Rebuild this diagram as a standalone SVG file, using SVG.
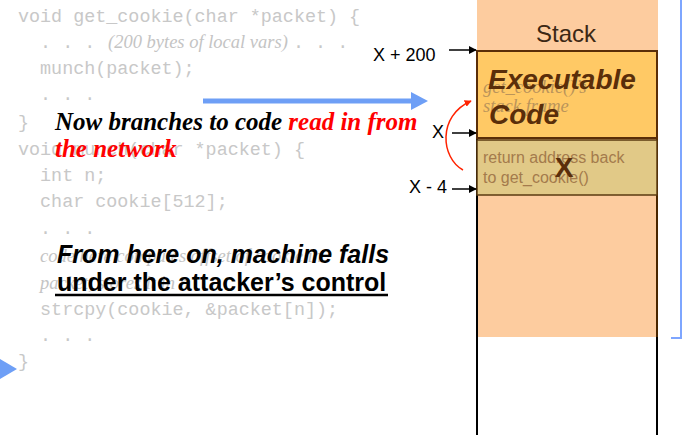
<svg xmlns="http://www.w3.org/2000/svg" width="682" height="435" viewBox="0 0 682 435">
  <style>
    .code { font-family: "Liberation Mono", "DejaVu Sans Mono", monospace; font-size: 18.4px; fill: #c8c8c8; }
    .note { font-family: "Liberation Serif", "Times New Roman", serif; font-style: italic; font-size: 18.5px; fill: #c4c4c4; }
    .callout { font-family: "Liberation Serif", "Times New Roman", serif; font-style: italic; font-weight: bold; font-size: 25px; }
    .warn { font-family: "Liberation Sans", Arial, sans-serif; font-weight: bold; font-size: 25px; fill: #000; }
    .addr { font-family: "Liberation Sans", Arial, sans-serif; font-size: 18px; fill: #000; }
    .ptr { stroke: #000; stroke-width: 1.5; fill: none; }
  </style>
  <defs>
    <marker id="ptrHead" viewBox="0 0 10 10" refX="9" refY="5" markerWidth="8" markerHeight="8" markerUnits="userSpaceOnUse" orient="auto">
      <path d="M0,0 L10,5 L0,10 z" fill="#000"/>
    </marker>
    <marker id="redHead" viewBox="0 0 10 10" refX="9" refY="5" markerWidth="7" markerHeight="7" markerUnits="userSpaceOnUse" orient="auto">
      <path d="M0,0 L10,5 L0,10 z" fill="#ff2200"/>
    </marker>
  </defs>

  <rect width="682" height="435" fill="#ffffff"/>

  <!-- source listing (dimmed) -->
  <g id="listing">
    <text class="code" x="18" y="22" xml:space="preserve">void get_cookie(char *packet) {</text>
    <text class="code" x="18" y="48" xml:space="preserve">  . . .</text>
    <text class="note" x="108" y="48">(200 bytes of local vars)</text>
    <text class="code" x="293" y="48">. . .</text>
    <text class="code" x="18" y="74" xml:space="preserve">  munch(packet);</text>
    <text class="code" x="18" y="100" xml:space="preserve">  . . .</text>
    <text class="code" x="18" y="128">}</text>
    <text class="code" x="18" y="155" xml:space="preserve">void munch(char *packet) {</text>
    <text class="code" x="18" y="181" xml:space="preserve">  int n;</text>
    <text class="code" x="18" y="207" xml:space="preserve">  char cookie[512];</text>
    <text class="code" x="18" y="234" xml:space="preserve">  . . .</text>
    <text class="note" x="40" y="262">code here computes offset of cookie in</text>
    <text class="note" x="40" y="289">packet, stores it in n</text>
    <text class="code" x="18" y="315" xml:space="preserve">  strcpy(cookie, &amp;packet[n]);</text>
    <text class="code" x="18" y="341" xml:space="preserve">  . . .</text>
    <text class="code" x="18" y="367">}</text>
  </g>

  <!-- stack column -->
  <g id="stack">
    <rect x="477" y="0" width="181" height="337" fill="#fdcc9f"/>
    <line x1="477" y1="50" x2="477" y2="435" stroke="#000" stroke-width="2"/>
    <line x1="657" y1="50" x2="657" y2="337" stroke="#4a2600" stroke-width="2"/>
    <line x1="657" y1="337" x2="657" y2="435" stroke="#000" stroke-width="2"/>
    <text x="566" y="42" text-anchor="middle" font-family="Liberation Sans, Arial, sans-serif" font-size="24" fill="#3c2814">Stack</text>
  </g>

  <g id="executable-code">
    <rect x="477" y="51" width="180" height="87" fill="#ffc965" stroke="#5a2e08" stroke-width="2"/>
    <text x="483" y="93" font-family="Liberation Serif, Times New Roman, serif" font-style="italic" font-size="18.5" fill="#a88658" fill-opacity="0.8">get_cookie()’s</text>
    <text x="483" y="112" font-family="Liberation Serif, Times New Roman, serif" font-style="italic" font-size="18.5" fill="#a88658" fill-opacity="0.8">stack frame</text>
    <text x="488" y="89" font-family="Liberation Sans, Arial, sans-serif" font-style="italic" font-weight="bold" font-size="28" fill="#5a2e0a">Executable</text>
    <text x="489" y="124" font-family="Liberation Sans, Arial, sans-serif" font-style="italic" font-weight="bold" font-size="28" fill="#5a2e0a">Code</text>
  </g>

  <g id="return-address">
    <rect x="477" y="140" width="180" height="55" fill="#e1c987" stroke="#5a3a10" stroke-width="1.5"/>
    <text x="483" y="163" font-family="Liberation Sans, Arial, sans-serif" font-size="16" fill="#a47b4c">return address back</text>
    <text x="483" y="183" font-family="Liberation Sans, Arial, sans-serif" font-size="16" fill="#a47b4c">to get_cookie()</text>
    <text x="564" y="177" text-anchor="middle" font-family="Liberation Sans, Arial, sans-serif" font-weight="bold" font-size="28" fill="#5a2e0a">X</text>
  </g>

  <!-- address labels -->
  <g id="labels">
    <text class="addr" x="373" y="61">X + 200</text>
    <text class="addr" x="432" y="138">X</text>
    <text class="addr" x="409" y="193">X - 4</text>
  </g>

  <!-- blue bracket at right edge -->
  <g id="bracket">
    <polyline points="681,0 681,338 671,338" fill="none" stroke="#7ea6ff" stroke-width="2"/>
  </g>

  <g id="connectors">
    <line class="ptr" x1="449" y1="50" x2="476" y2="50" marker-end="url(#ptrHead)"/>
    <line class="ptr" x1="452" y1="133" x2="476" y2="133" marker-end="url(#ptrHead)"/>
    <line class="ptr" x1="452" y1="189" x2="476" y2="189" marker-end="url(#ptrHead)"/>
    <path d="M463,170 C441,158 437,116 471,101" fill="none" stroke="#ff2200" stroke-width="1.5" marker-end="url(#redHead)"/>
    <line x1="203" y1="101" x2="413" y2="101" stroke="#6e9ff6" stroke-width="5"/>
    <polygon points="411,92 428,101 411,110" fill="#6e9ff6"/>
    <polygon points="0,359 17,369 0,379" fill="#6e9ff6"/>
  </g>

  <!-- callouts -->
  <g id="callout-branch">
    <text class="callout" x="55" y="130"><tspan fill="#000">Now branches to code </tspan><tspan fill="#ff0000">read in from</tspan></text>
    <text class="callout" x="55" y="157" fill="#ff0000">the network</text>
  </g>

  <g id="callout-control">
    <text class="warn" x="57" y="263" font-style="italic">From here on, machine falls</text>
    <text class="warn" x="57" y="291">under the attacker’s control</text>
    <line x1="55" y1="295" x2="388" y2="295" stroke="#000" stroke-width="2.5"/>
  </g>
</svg>
